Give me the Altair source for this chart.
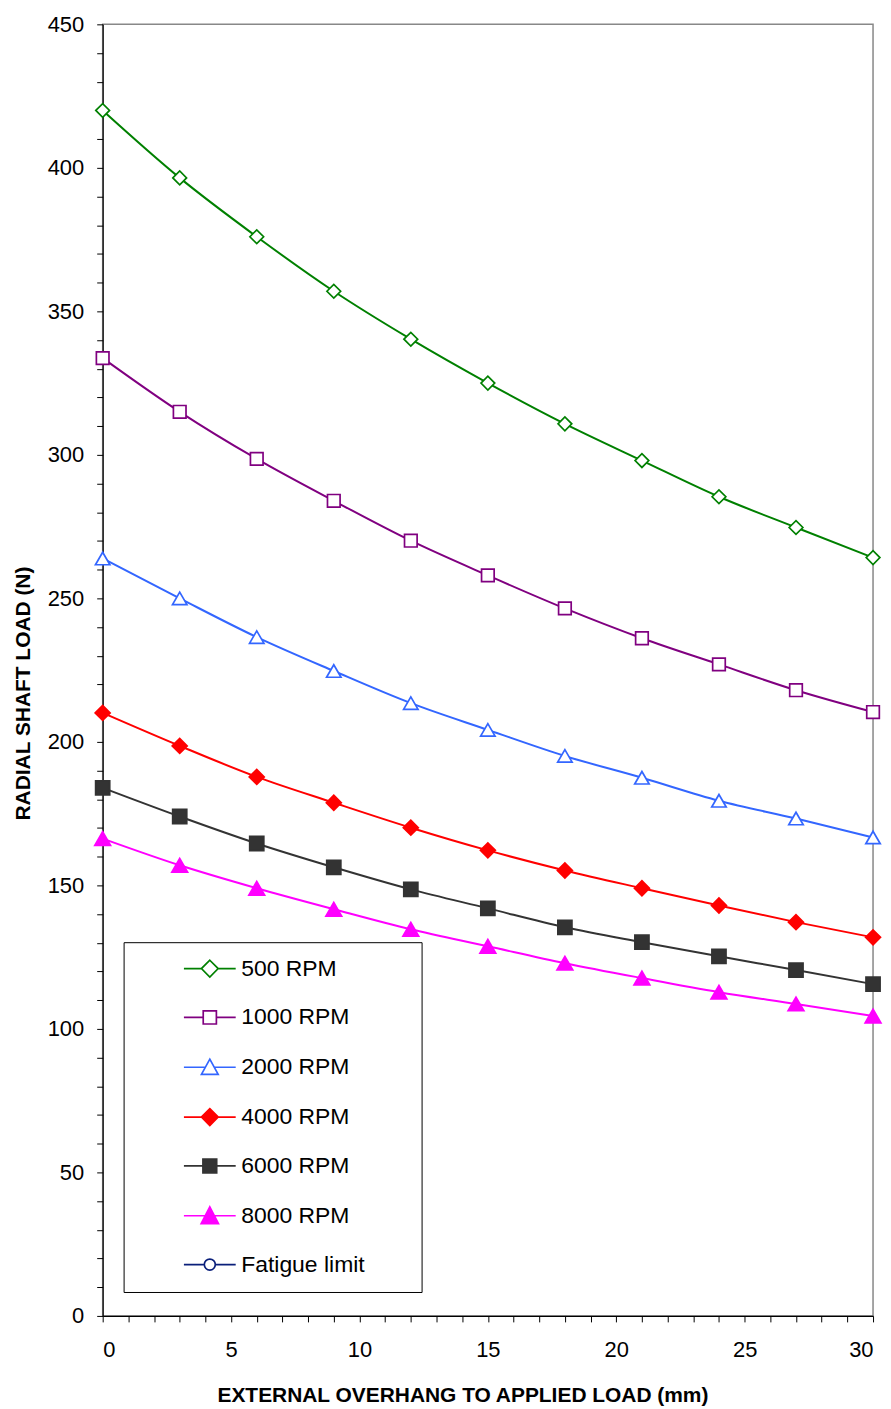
import altair as alt
import pandas as pd

# ---- data ----
overhang = [0, 3, 6, 9, 12, 15, 18, 21, 24, 27, 30]
rpm500 = [420, 396.5, 376, 357, 340.3, 325, 310.8, 298, 285.4, 274.7, 264.2]
rpm1000 = [333.7, 315, 298.6, 284, 270.1, 258, 246.5, 236.1, 227, 218, 210.4]
rpm2000 = [263.9, 250, 236.5, 224.7, 213.5, 204.2, 195.1, 187.5, 179.5, 173.3, 166.7]
rpm4000 = [210.1, 198.6, 187.8, 178.8, 170.1, 162.2, 155.2, 149, 143, 137.2, 131.9]
rpm6000 = [184, 174, 164.6, 156.3, 148.6, 142, 135.4, 130.2, 125.3, 120.5, 115.6]
rpm8000 = [166.3, 157, 149, 141.7, 134.7, 128.8, 122.9, 117.7, 112.8, 108.7, 104.5]

series_names = ["500 RPM", "1000 RPM", "2000 RPM", "4000 RPM", "6000 RPM", "8000 RPM", "Fatigue limit"]
series_values = [rpm500, rpm1000, rpm2000, rpm4000, rpm6000, rpm8000]

stroke_colors = ["#008000", "#800080", "#3366FF", "#FF0000", "#333333", "#FF00FF", "#0A1F7A"]
fill_colors = ["#FFFFFF", "#FFFFFF", "#FFFFFF", "#FF0000", "#333333", "#FF00FF", "#FFFFFF"]
plot_shapes = ["diamond", "square", "triangle-up", "diamond", "square", "triangle-up", "circle"]
plot_sizes = [190, 160, 210, 225, 200, 250, 121]

# legend symbols: marker plus the short line through it (unit box = 6 px)
legend_paths = [
    "M-4.33,0H-1.4M1.4,0H4.33M0,-1.4L1.4,0L0,1.4L-1.4,0Z",
    "M-4.33,0H-1.1M1.1,0H4.33M-1.1,-1.1H1.1V1.1H-1.1Z",
    "M-4.33,0H-0.75M0.75,0H4.33M0,-1.35L1.4,1.2H-1.4Z",
    "M-4.33,0H-1.4M1.4,0H4.33M0,-1.4L1.4,0L0,1.4L-1.4,0Z",
    "M-4.33,0H-1.15M1.15,0H4.33M-1.15,-1.15H1.15V1.15H-1.15Z",
    "M-4.33,0H-0.8M0.8,0H4.33M0,-1.5L1.45,1.3H-1.45Z",
    "M-4.33,0H-0.92M0.92,0H4.33M-0.92,0A0.92,0.92,0,1,0,0.92,0A0.92,0.92,0,1,0,-0.92,0Z",
]

rows = []
for name, vals in zip(series_names, series_values):
    for xv, yv in zip(overhang, vals):
        rows.append({"series": name, "x": xv, "y": yv})
df = pd.DataFrame(rows)

FONT = "Liberation Sans"

x_enc = alt.X(
    "x:Q",
    scale=alt.Scale(domain=[0, 30], nice=False),
    axis=alt.Axis(
        title="EXTERNAL OVERHANG TO APPLIED LOAD (mm)",
        values=list(range(0, 31)),
        labelExpr="datum.value % 5 == 0 ? datum.label : ''",
        grid=False,
        tickSize=6,
        labelPadding=18,
        titlePadding=24,
        titleX=361,
        labelFontSize=22,
        titleFontSize=21,
    ),
)
y_enc = alt.Y(
    "y:Q",
    scale=alt.Scale(domain=[0, 450], nice=False),
    axis=alt.Axis(
        title="RADIAL SHAFT LOAD (N)",
        values=list(range(0, 451, 10)),
        labelExpr="datum.value % 50 == 0 ? datum.label : ''",
        grid=False,
        tickSize=6,
        labelPadding=13,
        titlePadding=14,
        titleY=671,
        labelFontSize=22,
        titleFontSize=21,
    ),
)

layers = []
for i, name in enumerate(series_names[:6]):
    base = alt.Chart(df).transform_filter(alt.datum.series == name)
    layers.append(
        base.mark_line(interpolate="monotone", strokeWidth=2, stroke=stroke_colors[i]).encode(
            x=x_enc, y=y_enc
        )
    )
for i, name in enumerate(series_names[:6]):
    base = alt.Chart(df).transform_filter(alt.datum.series == name)
    layers.append(
        base.mark_point(
            shape=plot_shapes[i],
            size=plot_sizes[i],
            stroke=stroke_colors[i],
            fill=fill_colors[i],
            strokeWidth=1.7,
            opacity=1,
            filled=False,
        ).encode(x=x_enc, y=y_enc)
    )

legend_layer = (
    alt.Chart(df)
    .transform_filter("false")
    .mark_point(strokeWidth=1.7, opacity=1)
    .encode(
        x=x_enc,
        y=y_enc,
        shape=alt.Shape(
            "series:N",
            scale=alt.Scale(domain=series_names, range=legend_paths),
            legend=alt.Legend(title=" "),
        ),
        stroke=alt.Stroke(
            "series:N",
            scale=alt.Scale(domain=series_names, range=stroke_colors),
            legend=alt.Legend(title=" "),
        ),
        fill=alt.Fill(
            "series:N",
            scale=alt.Scale(domain=series_names, range=fill_colors),
            legend=alt.Legend(title=" "),
        ),
    )
)
layers.append(legend_layer)

chart = (
    alt.layer(*layers)
    .properties(
        width=773,
        height=1296,
        autosize=alt.AutoSizeParams(type="none"),
        padding={"left": 95, "top": 14, "right": 10, "bottom": 88},
    )
    .configure_view(stroke="#888888", strokeWidth=1.5)
    .configure_axis(
        domainColor="#000000",
        domainWidth=1.2,
        tickColor="#000000",
        tickWidth=1,
        labelColor="#000000",
        titleColor="#000000",
        labelFont=FONT,
        titleFont=FONT,
        titleFontWeight="bold",
    )
    .configure_legend(
        orient="none",
        legendX=21,
        legendY=921,
        padding=15,
        symbolSize=144,
        symbolStrokeWidth=1.7,
        symbolOffset=60,
        labelOffset=20,
        labelFontSize=23,
        labelFont=FONT,
        labelColor="#000000",
        rowPadding=25,
        titleOrient="right",
        titlePadding=42,
        titleFontSize=10,
        strokeColor="#000000",
        fillColor="#FFFFFF",
        cornerRadius=0,
    )
)

chart.save("out.html", embed_options={"renderer": "svg", "actions": False})
